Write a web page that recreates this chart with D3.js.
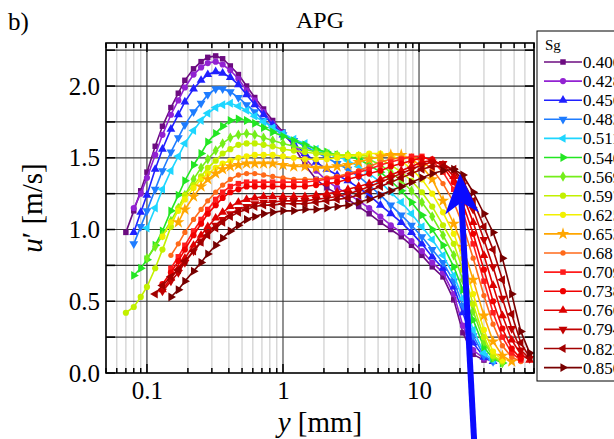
<!DOCTYPE html>
<html>
<head>
<meta charset="utf-8">
<script src="https://cdn.jsdelivr.net/npm/d3@7"></script>
<style>
  body { margin: 0; background: #fff; overflow: hidden; }
  svg { display: block; font-family: "Liberation Serif", "Times New Roman", serif; }
</style>
</head>
<body>
<script>
// wall distance y [mm], one grid shared by every profile
var posMm = [0.07, 0.08, 0.09, 0.10, 0.115, 0.13, 0.15, 0.17, 0.19, 0.22,
             0.25, 0.28, 0.32, 0.36, 0.41, 0.47, 0.54, 0.62, 0.72, 0.84,
             1.0, 1.2, 1.45, 1.75, 2.1, 2.5, 3.0, 3.6, 4.3, 5.2,
             6.2, 7.4, 8.8, 10.5, 12.5, 15, 18, 21, 25, 30,
             35, 41, 48, 56, 65];

// Sg legend entries
var sgLabels = ["0.400", "0.428", "0.456", "0.483", "0.511", "0.540", "0.569", "0.597", "0.625",
                "0.653", "0.681", "0.709", "0.738", "0.766", "0.794", "0.822", "0.850"];

// u' [m/s] per profile (null = no measurement)
var u400 = [0.98,1.13,1.27,1.40,1.58,1.72,1.85,1.95,2.04,2.12,
            2.17,2.20,2.21,2.19,2.14,2.08,2.00,1.92,1.84,1.76,
            1.68,1.58,1.45,1.35,1.29,1.25,1.21,1.16,1.11,1.05,
            1.00,0.95,0.89,0.82,0.74,0.67,0.51,0.28,0.13,0.09,
            null,null,null,null,null];
var u428 = [null,1.15,1.25,1.36,1.52,1.66,1.80,1.90,1.99,2.08,
            2.13,2.16,2.17,2.15,2.11,2.05,1.97,1.90,1.82,1.74,
            1.67,1.59,1.50,1.41,1.34,1.29,1.25,1.20,1.15,1.09,
            1.03,0.98,0.92,0.85,0.77,0.70,0.55,0.33,0.16,0.10,
            0.08,null,null,null,null];
var u456 = [null,0.98,1.12,1.24,1.42,1.56,1.70,1.80,1.89,1.98,
            2.04,2.08,2.10,2.09,2.06,2.01,1.94,1.87,1.80,1.73,
            1.66,1.60,1.53,1.47,1.42,1.38,1.34,1.29,1.24,1.17,
            1.11,1.05,0.98,0.90,0.81,0.73,0.60,0.42,0.21,0.11,
            0.08,null,null,null,null];
var u483 = [null,0.90,1.02,1.13,1.28,1.41,1.54,1.64,1.73,1.82,
            1.88,1.94,1.98,1.98,1.96,1.92,1.87,1.82,1.76,1.71,
            1.66,1.62,1.58,1.54,1.50,1.46,1.42,1.37,1.31,1.24,
            1.17,1.10,1.03,0.95,0.86,0.77,0.64,0.47,0.26,0.12,
            0.08,null,null,null,null];
var u511 = [null,null,null,1.01,1.15,1.28,1.41,1.51,1.60,1.69,
            1.76,1.81,1.85,1.87,1.88,1.86,1.83,1.79,1.75,1.71,
            1.67,1.63,1.60,1.56,1.53,1.51,1.48,1.44,1.39,1.33,
            1.26,1.19,1.11,1.02,0.93,0.82,0.68,0.52,0.30,0.14,
            0.09,null,null,null,null];
var u540 = [null,0.68,0.73,0.79,0.89,0.99,1.13,1.24,1.34,1.45,
            1.53,1.61,1.67,1.72,1.76,1.77,1.76,1.74,1.71,1.68,
            1.65,1.62,1.59,1.56,1.54,1.52,1.51,1.49,1.45,1.40,
            1.34,1.27,1.19,1.10,1.00,0.89,0.74,0.58,0.37,0.18,
            0.10,0.07,null,null,null];
var u569 = [null,null,null,0.80,0.88,0.96,1.06,1.15,1.24,1.35,
            1.43,1.49,1.55,1.60,1.64,1.66,1.67,1.66,1.64,1.62,
            1.60,1.58,1.56,1.54,1.53,1.52,1.52,1.51,1.49,1.45,
            1.40,1.34,1.27,1.19,1.09,0.96,0.82,0.65,0.43,0.22,
            0.11,0.07,null,null,null];
var u597 = [0.42,0.46,0.53,0.60,0.73,0.86,1.02,1.15,1.24,1.31,
            1.37,1.43,1.48,1.53,1.56,1.59,1.60,1.60,1.59,1.58,
            1.56,1.55,1.54,1.53,1.52,1.52,1.52,1.52,1.51,1.49,
            1.45,1.40,1.34,1.26,1.16,1.03,0.90,0.72,0.48,0.25,
            0.12,0.08,null,null,null];
var u625 = [null,null,null,null,null,0.95,1.05,1.13,1.21,1.29,
            1.35,1.39,1.43,1.46,1.48,1.50,1.51,1.52,1.52,1.52,
            1.51,1.50,1.49,1.49,1.49,1.50,1.51,1.52,1.53,1.53,
            1.52,1.48,1.42,1.35,1.25,1.12,0.97,0.80,0.55,0.30,
            0.15,0.09,null,null,null];
var u653 = [null,null,null,null,null,null,null,1.05,1.14,1.23,
            1.30,1.35,1.39,1.42,1.44,1.45,1.46,1.46,1.46,1.46,
            1.45,1.44,1.44,1.43,1.43,1.44,1.45,1.47,1.49,1.51,
            1.52,1.52,1.49,1.44,1.35,1.20,1.04,0.88,0.65,0.40,
            0.22,0.12,0.08,null,null];
var u681 = [null,null,null,null,null,null,0.82,0.90,0.98,1.07,
            1.14,1.20,1.26,1.31,1.35,1.38,1.39,1.39,1.38,1.37,
            1.36,1.35,1.35,1.35,1.36,1.37,1.39,1.41,1.44,1.47,
            1.49,1.50,1.50,1.48,1.42,1.32,1.19,1.03,0.80,0.54,
            0.34,0.19,0.11,0.08,null];
var u709 = [null,null,null,null,null,null,0.73,0.81,0.89,0.99,
            1.07,1.14,1.21,1.26,1.30,1.32,1.33,1.33,1.33,1.33,
            1.33,1.33,1.33,1.34,1.35,1.36,1.38,1.40,1.42,1.45,
            1.47,1.49,1.51,1.51,1.48,1.40,1.28,1.12,0.90,0.64,
            0.42,0.25,0.14,0.09,null];
var u738 = [null,null,null,null,null,0.62,0.70,0.78,0.86,0.96,
            1.04,1.11,1.17,1.22,1.26,1.28,1.30,1.30,1.30,1.30,
            1.30,1.30,1.30,1.31,1.32,1.33,1.35,1.37,1.39,1.41,
            1.44,1.46,1.48,1.50,1.49,1.44,1.33,1.18,0.97,0.72,
            0.50,0.31,0.17,0.10,null];
var u766 = [null,null,null,null,null,0.58,0.66,0.73,0.80,0.89,
            0.96,1.02,1.08,1.12,1.16,1.19,1.21,1.22,1.23,1.23,
            1.23,1.23,1.23,1.24,1.25,1.26,1.28,1.30,1.32,1.35,
            1.38,1.41,1.44,1.47,1.48,1.45,1.37,1.24,1.05,0.82,
            0.61,0.40,0.23,0.13,0.09];
var u794 = [null,null,null,null,null,0.57,0.64,0.70,0.77,0.85,
            0.92,0.98,1.03,1.07,1.11,1.14,1.16,1.18,1.19,1.19,
            1.20,1.20,1.20,1.21,1.22,1.23,1.25,1.27,1.30,1.33,
            1.36,1.39,1.42,1.45,1.47,1.46,1.41,1.31,1.14,0.93,
            0.74,0.52,0.31,0.16,0.10];
var u822 = [null,null,null,null,0.55,0.61,0.67,0.72,0.78,0.85,
            0.91,0.96,1.01,1.05,1.09,1.12,1.14,1.16,1.17,1.17,
            1.18,1.18,1.18,1.19,1.20,1.21,1.22,1.24,1.27,1.30,
            1.33,1.36,1.39,1.42,1.44,1.44,1.42,1.34,1.20,1.02,
            0.86,0.65,0.41,0.21,0.11];
var u850 = [null,null,null,null,null,null,0.53,0.58,0.64,0.71,
            0.77,0.83,0.89,0.94,0.99,1.03,1.07,1.09,1.11,1.12,
            1.13,1.13,1.14,1.14,1.15,1.16,1.17,1.19,1.21,1.24,
            1.27,1.30,1.33,1.36,1.39,1.41,1.42,1.38,1.26,1.11,
            0.98,0.80,0.55,0.29,0.14];

var profiles = [u400, u428, u456, u483, u511, u540, u569, u597, u625,
                u653, u681, u709, u738, u766, u794, u822, u850];

// axis ticks
var yLabelTicks = [0, 0.5, 1.0, 1.5, 2.0];
var xLabelTicks = [0.1, 1, 10];

// arrow annotation (data coords: y mm, u' m/s)
var arrowFrom = [25.5, -0.5];
var arrowTo = [20, 1.39];

// styles
var colors = ["#6c0c80", "#9222d2", "#2020ff", "#1e7cff", "#1ed6ff", "#22e622", "#74ee1a", "#c2f000", "#f2f000",
              "#ffa600", "#ff6a1a", "#ff1c1c", "#f00000", "#de0000", "#c20000", "#a20000", "#780000"];
var shapes = ["square", "circle", "up", "down", "left", "right", "diamond", "circle", "circle",
              "star", "dot", "square", "circle", "up", "down", "left", "right"];

var W = 614, H = 439;
var plot = {left: 106, right: 534, top: 43, bottom: 373};

var svg = d3.select("body").append("svg")
  .attr("width", W).attr("height", H);

var x = d3.scaleLog().domain([0.05, 70]).range([plot.left, plot.right]);
var y = d3.scaleLinear().domain([0, 2.3]).range([plot.bottom, plot.top]);

// minor / major positions on the log axis
var minorX = [];
[0.01, 0.1, 1, 10].forEach(function(dec) {
  for (var k = 1; k <= 9; k++) {
    var v = dec * k;
    if (v >= 0.05 && v <= 70 && k != 1) minorX.push(v);
  }
});
var gridU = d3.range(0.25, 2.3, 0.25);

//grid lines-------------------------------------------------
var grid = svg.append("g");
grid.selectAll(".vmin").data(minorX).enter().append("line")
  .attr("x1", function(d) { return x(d); }).attr("x2", function(d) { return x(d); })
  .attr("y1", plot.top).attr("y2", plot.bottom)
  .attr("stroke", "#d2d2d2").attr("stroke-width", 1.3);
grid.selectAll(".vmaj").data(xLabelTicks).enter().append("line")
  .attr("x1", function(d) { return x(d); }).attr("x2", function(d) { return x(d); })
  .attr("y1", plot.top).attr("y2", plot.bottom)
  .attr("stroke", function(d) { return d == 0.1 ? "#111" : "#777"; })
  .attr("stroke-width", function(d) { return d == 0.1 ? 1 : 1.6; });
grid.selectAll(".h").data(gridU).enter().append("line")
  .attr("x1", plot.left).attr("x2", plot.right)
  .attr("y1", function(d) { return y(d); }).attr("y2", function(d) { return y(d); })
  .attr("stroke", "#333").attr("stroke-width", 1.2);

//ticks on all four sides, pointing in------------------------------
var ticks = svg.append("g").attr("stroke", "#000");
function xTick(v, len) {
  ticks.append("line").attr("x1", x(v)).attr("x2", x(v)).attr("y1", plot.bottom).attr("y2", plot.bottom - len).attr("stroke-width", 1.5);
  ticks.append("line").attr("x1", x(v)).attr("x2", x(v)).attr("y1", plot.top).attr("y2", plot.top + len).attr("stroke-width", 1.5);
}
minorX.forEach(function(v) { xTick(v, 5); });
xLabelTicks.forEach(function(v) { xTick(v, 9); });
gridU.concat([0]).forEach(function(v) {
  ticks.append("line").attr("x1", plot.left).attr("x2", plot.left + 9).attr("y1", y(v)).attr("y2", y(v)).attr("stroke-width", 1.5);
  ticks.append("line").attr("x1", plot.right).attr("x2", plot.right - 9).attr("y1", y(v)).attr("y2", y(v)).attr("stroke-width", 1.5);
});

//tick labels
svg.append("g")
  .attr("transform", "translate(" + (plot.left - 6) + ",0)")
  .call(d3.axisLeft(y).tickValues(yLabelTicks).tickFormat(d3.format(".1f")).tickSize(0).tickPadding(0))
  .call(function(g) { g.select(".domain").remove(); })
  .selectAll("text").attr("font-size", 25).attr("font-family", "Liberation Serif").attr("fill", "#000");

svg.append("g")
  .attr("transform", "translate(0," + (plot.bottom + 8) + ")")
  .call(d3.axisBottom(x).tickValues(xLabelTicks).tickFormat(function(d) { return d < 1 ? "0.1" : d3.format("d")(d); }).tickSize(0).tickPadding(0))
  .call(function(g) { g.select(".domain").remove(); })
  .selectAll("text").attr("font-size", 25).attr("font-family", "Liberation Serif").attr("fill", "#000");

//profiles------------------------------------------------------
var line = d3.line()
  .defined(function(d) { return d.u != null; })
  .x(function(d) { return x(d.pos); })
  .y(function(d) { return y(d.u); });

function markerPath(kind) {
  var t = d3.symbolCircle, s = 30;
  if (kind == "square") { t = d3.symbolSquare; s = 30; }
  if (kind == "up" || kind == "down" || kind == "left" || kind == "right") { t = d3.symbolTriangle; s = 34; }
  if (kind == "diamond") { t = d3.symbolDiamond; s = 32; }
  if (kind == "star") { t = d3.symbolStar; s = 48; }
  if (kind == "dot") { s = 22; }
  return d3.symbol().type(t).size(s)();
}
function markerRot(kind) {
  if (kind == "down") return 180;
  if (kind == "left") return -90;
  if (kind == "right") return 90;
  return 0;
}

var plotArea = svg.append("g");
profiles.forEach(function(vals, i) {
  var pts = posMm.map(function(p, j) { return {pos: p, u: vals[j]}; });
  var g = plotArea.append("g");
  g.append("path").datum(pts)
    .attr("d", line)
    .attr("fill", "none")
    .attr("stroke", colors[i])
    .attr("stroke-width", 1.6);
  g.selectAll("path.m").data(pts.filter(function(d) { return d.u != null; }))
    .enter().append("path")
    .attr("class", "m")
    .attr("d", markerPath(shapes[i]))
    .attr("transform", function(d) {
      return "translate(" + x(d.pos) + "," + y(d.u) + ") rotate(" + markerRot(shapes[i]) + ")";
    })
    .attr("fill", colors[i]);
});

//frame
svg.append("rect")
  .attr("x", plot.left).attr("y", plot.top)
  .attr("width", plot.right - plot.left).attr("height", plot.bottom - plot.top)
  .attr("fill", "none").attr("stroke", "#000").attr("stroke-width", 1.6);

//arrow-----------------------------------------------------------
var p0 = [x(arrowFrom[0]), y(arrowFrom[1])];
var p1 = [x(arrowTo[0]), y(arrowTo[1])];
var dx = p1[0] - p0[0], dy = p1[1] - p0[1];
var len = Math.sqrt(dx * dx + dy * dy);
var ux = dx / len, uy = dy / len;
var headLen = 40, headW = 17;
var notch = [p1[0] - ux * headLen * 0.72, p1[1] - uy * headLen * 0.72];
svg.append("line")
  .attr("x1", p0[0]).attr("y1", p0[1])
  .attr("x2", notch[0]).attr("y2", notch[1])
  .attr("stroke", "#0a0aff").attr("stroke-width", 6);
var back = [p1[0] - ux * headLen, p1[1] - uy * headLen];
svg.append("path")
  .attr("d", "M" + p1[0] + "," + p1[1] +
    "L" + (back[0] - uy * headW) + "," + (back[1] + ux * headW) +
    "L" + notch[0] + "," + notch[1] +
    "L" + (back[0] + uy * headW) + "," + (back[1] - ux * headW) + "Z")
  .attr("fill", "#0a0aff");

//titles------------------------------------------------------------
svg.append("text").attr("x", 8).attr("y", 30).attr("font-size", 25).text("b)");
svg.append("text").attr("x", 320).attr("y", 28).attr("font-size", 24).attr("text-anchor", "middle").text("APG");

var xt = svg.append("text").attr("x", 320).attr("y", 432).attr("font-size", 29).attr("text-anchor", "middle");
xt.append("tspan").attr("font-style", "italic").text("y");
xt.append("tspan").text(" [mm]");

var yt = svg.append("text").attr("transform", "translate(42,208) rotate(-90)").attr("font-size", 29).attr("text-anchor", "middle");
yt.append("tspan").attr("font-style", "italic").text("u");
yt.append("tspan").text("\u2032 [m/s]");

//legend------------------------------------------------------------
var lg = svg.append("g");
lg.append("rect").attr("x", 537).attr("y", 31).attr("width", 100).attr("height", 350)
  .attr("fill", "#fff").attr("stroke", "#000").attr("stroke-width", 1);
lg.append("text").attr("x", 545).attr("y", 50).attr("font-size", 15).text("Sg");
sgLabels.forEach(function(lab, i) {
  var ly = 62 + i * 19.1;
  lg.append("line").attr("x1", 544).attr("x2", 582).attr("y1", ly).attr("y2", ly)
    .attr("stroke", colors[i]).attr("stroke-width", 1.6);
  lg.append("path").attr("d", markerPath(shapes[i]))
    .attr("transform", "translate(563," + ly + ") rotate(" + markerRot(shapes[i]) + ")")
    .attr("fill", colors[i]);
  lg.append("text").attr("x", 583).attr("y", ly + 6).attr("font-size", 17).text(lab);
});
</script>
</body>
</html>
